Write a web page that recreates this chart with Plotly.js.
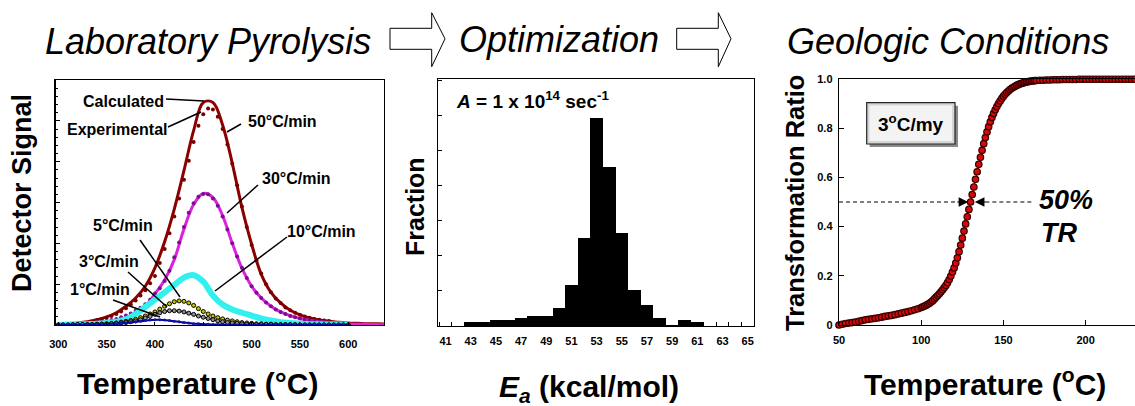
<!DOCTYPE html>
<html><head><meta charset="utf-8">
<script src="https://cdn.plot.ly/plotly-3.0.1.min.js"></script>
<style>html,body{margin:0;padding:0;background:#fff}#chart{width:1135px;height:406px}</style>
</head><body><div id="chart"></div>
<script>
// ---------- Panel 1: laboratory pyrolysis (detector signal, arbitrary units) ----------
const tempCalc = [300,310,320,330,340,350,360,370,380,390,400,410,420,430,440,450,460,470,480,490,500,510,520,530,540,550,560,570,580,590,600,610,620,630,640];
const calc50 = [0.02,0.03,0.05,0.08,0.13,0.20,0.30,0.46,0.66,0.95,1.40,2.04,2.84,3.78,4.76,5.45,5.45,4.90,3.96,2.88,1.98,1.24,0.80,0.54,0.36,0.25,0.17,0.12,0.09,0.07,0.05,0.04,0.03,0.03,0.02];
const calc30 = [0.01,0.01,0.02,0.03,0.05,0.08,0.12,0.18,0.30,0.46,0.76,1.10,1.60,2.35,2.95,3.22,3.12,2.68,2.00,1.39,0.95,0.66,0.46,0.32,0.23,0.16,0.11,0.08,0.06,0.04,0.03,0.02,0.02,0.01,0.01];
const tempExp = [340,345,350,355,360,365,370,375,380,385,390,395,400,405,410,415,420,425,430,435,440,445,450,455,460,465,470,475,480,485,490,495,500,505,510,515,520,525,530,535,540,545,550,555,560,565,570,575,580];
const exp50 = [0.12,0.15,0.18,0.22,0.27,0.33,0.41,0.50,0.60,0.72,0.85,1.02,1.20,1.52,1.86,2.25,2.66,3.10,3.56,4.02,4.48,4.88,5.16,5.30,5.28,5.10,4.80,4.42,3.95,3.42,2.90,2.40,1.96,1.58,1.26,1.00,0.80,0.65,0.54,0.43,0.36,0.30,0.25,0.21,0.18,0.15,0.13,0.11,0.10];
const exp30 = [0.06,0.08,0.10,0.12,0.15,0.19,0.23,0.28,0.35,0.42,0.51,0.62,0.77,0.90,1.08,1.33,1.66,2.02,2.40,2.75,2.98,3.14,3.21,3.20,3.10,2.92,2.66,2.34,2.00,1.68,1.40,1.15,0.95,0.79,0.66,0.55,0.46,0.38,0.32,0.27,0.22,0.19,0.16,0.13,0.11,0.10,0.08,0.07,0.06];
const temp10 = [300,310,320,330,340,350,360,370,380,390,400,410,420,430,440,450,460,470,480,490,500,510,520,530,540,550,560,570,580,590,600];
const rate10 = [0,0.01,0.01,0.02,0.03,0.05,0.08,0.14,0.27,0.44,0.62,0.80,0.98,1.16,1.22,1.06,0.72,0.50,0.38,0.30,0.23,0.16,0.11,0.07,0.05,0.03,0.02,0.02,0.01,0.01,0.01];
const tempLow = [300,305,310,315,320,325,330,335,340,345,350,355,360,365,370,375,380,385,390,395,400,405,410,415,420,425,430,435,440,445,450,455,460,465,470,475,480,485,490,495,500,505,510,515,520,525,530,535,540,545,550,555,560,565,570,575,580,585,590,595,600];
const rate5 = [0,0,0,0.01,0.01,0.01,0.01,0.01,0.02,0.02,0.03,0.04,0.05,0.07,0.09,0.11,0.14,0.18,0.22,0.27,0.32,0.39,0.46,0.52,0.57,0.59,0.58,0.54,0.48,0.40,0.33,0.27,0.22,0.18,0.15,0.12,0.10,0.08,0.06,0.05,0.04,0.03,0.03,0.02,0.02,0.01,0.01,0.01,0.01,0.01,0,0,0,0,0,0,0,0,0,0,0];
const rate3 = [0,0,0,0,0.01,0.01,0.01,0.01,0.01,0.02,0.02,0.03,0.04,0.05,0.06,0.08,0.10,0.13,0.17,0.21,0.26,0.30,0.33,0.35,0.35,0.34,0.32,0.29,0.26,0.22,0.19,0.16,0.13,0.10,0.08,0.06,0.05,0.04,0.03,0.02,0.02,0.01,0.01,0.01,0.01,0,0,0,0,0,0,0,0,0,0,0,0,0,0,0,0];
const rate1 = [0,0,0,0,0,0,0.01,0.01,0.01,0.01,0.02,0.02,0.03,0.04,0.05,0.06,0.08,0.09,0.11,0.12,0.13,0.13,0.12,0.11,0.09,0.08,0.06,0.05,0.03,0.03,0.02,0.02,0.01,0.01,0.01,0,0,0,0,0,0,0,0,0,0,0,0,0,0,0,0,0,0,0,0,0,0,0,0,0,0];
const tempTicks = [300,350,400,450,500,550,600];

// ---------- Panel 2: activation energy distribution ----------
const eaBins = [43,44,45,46,47,48,49,50,51,52,53,54,55,56,57,58,59,60,61];
const eaFraction = [0.006,0.005,0.009,0.009,0.011,0.014,0.014,0.025,0.058,0.126,0.296,0.226,0.133,0.051,0.030,0.012,0.002,0.008,0.005];
const eaTicks = [41,43,45,47,49,51,53,55,57,59,61,63,65];

// ---------- Panel 3: geologic transformation ratio ----------
const geoTemp = [50,52,54,56,58,60,62,64,66,68,70,72,74,76,78,80,82,84,86,88,90,92,94,96,98,100,
101,102,103,104,105,106,107,108,109,110,111,112,113,114,115,116,117,118,119,120,
121,122,123,124,125,126,127,128,129,130,131,132,133,134,135,136,137,138,139,140,
141,142,143,144,145,146,147,148,149,150,151,152,153,154,155,156,157,158,159,160,
161,162,163,164,165,166,167,168,169,170,
172,174,176,178,180,182,184,186,188,190,192,194,196,198,200,202,204,206,208,210,212,214,216,218,220,222,224,226,228,230];
const geoTR = [0.000,0.003,0.006,0.008,0.010,0.012,0.015,0.018,0.021,0.023,0.025,0.027,0.029,0.032,0.035,0.037,0.039,0.042,0.045,0.048,0.051,0.054,0.058,0.062,0.066,0.071,
0.074,0.077,0.080,0.084,0.088,0.093,0.099,0.106,0.113,0.120,
0.127,0.135,0.143,0.152,0.161,0.172,0.185,0.199,0.215,0.232,
0.252,0.273,0.298,0.325,0.353,0.382,0.411,0.440,0.470,0.500,
0.530,0.561,0.592,0.623,0.653,0.682,0.710,0.737,0.762,0.785,
0.806,0.826,0.844,0.860,0.875,0.888,0.900,0.911,0.921,0.930,
0.938,0.945,0.951,0.957,0.962,0.966,0.970,0.974,0.977,0.980,
0.982,0.984,0.986,0.988,0.989,0.990,0.991,0.992,0.993,0.994,
0.995,0.995,0.996,0.996,0.997,0.997,0.997,0.998,0.998,0.998,
0.998,0.998,0.999,0.999,0.999,0.999,0.999,0.999,0.999,0.999,
0.999,0.999,0.999,0.999,0.999,0.999,0.999,0.999,0.999,0.999];
const trTickVals = [0,0.2,0.4,0.6,0.8,1.0];
const trTickText = ['0','0.2','0.4','0.6','0.8','1.0'];
const geoTicks = [50,100,150,200];

// ---------- layout helpers (pixel -> paper) ----------
const W = 1135, H = 406;
const X = p => p / W, Y = p => 1 - p / H;
const FONT = 'Liberation Sans, Arial, Helvetica, sans-serif';
const tickFont = {family: FONT, size: 11, color: '#000', weight: 'bold'};

const traces = [
  {x: tempCalc, y: calc50, mode: 'lines', line: {color: '#8b0000', width: 3, shape: 'spline'}, xaxis: 'x', yaxis: 'y'},
  {x: tempExp, y: exp50, mode: 'markers', marker: {color: '#7a0000', size: 4}, xaxis: 'x', yaxis: 'y'},
  {x: tempCalc, y: calc30, mode: 'lines', line: {color: '#e020e0', width: 3, shape: 'spline'}, xaxis: 'x', yaxis: 'y'},
  {x: tempExp, y: exp30, mode: 'markers', marker: {color: '#7a1090', size: 4}, xaxis: 'x', yaxis: 'y'},
  {x: temp10, y: rate10, mode: 'lines', line: {color: '#33f0f0', width: 6, shape: 'spline'}, xaxis: 'x', yaxis: 'y'},
  {x: tempLow, y: rate5, mode: 'lines+markers', line: {color: '#d8d800', width: 1.5, shape: 'spline'}, marker: {color: '#c8c800', size: 4, line: {color: '#000', width: 1}}, xaxis: 'x', yaxis: 'y'},
  {x: tempLow, y: rate3, mode: 'lines+markers', line: {color: '#202020', width: 1.5, shape: 'spline'}, marker: {color: '#909090', size: 4, line: {color: '#000', width: 1}}, xaxis: 'x', yaxis: 'y'},
  {x: tempLow, y: rate1, mode: 'lines+markers', line: {color: '#000080', width: 2, shape: 'spline'}, marker: {color: '#1010c0', size: 3}, xaxis: 'x', yaxis: 'y'},
  {x: eaBins, y: eaFraction, type: 'bar', width: 1, marker: {color: '#000', line: {width: 0}}, xaxis: 'x2', yaxis: 'y2'},
  {x: geoTemp, y: geoTR, mode: 'lines+markers', line: {color: '#3a0000', width: 1}, marker: {color: '#d80808', size: 6.5, line: {color: '#3a0000', width: 1.2}}, cliponaxis: false, xaxis: 'x3', yaxis: 'y3'}
];

const axBase = {showline: true, linecolor: '#000', linewidth: 1.3, showgrid: false, zeroline: false, tickfont: tickFont, tickcolor: '#000'};

function blockArrow(x0, x1, tip, sy0, sy1, hy0, hy1) {
  const my = (sy0 + sy1) / 2;
  const pts = [[x0,sy0],[x1,sy0],[x1,hy0],[tip,my],[x1,hy1],[x1,sy1],[x0,sy1]];
  return {type: 'path', xref: 'paper', yref: 'paper', path: 'M ' + pts.map(p => X(p[0]) + ',' + Y(p[1])).join(' L ') + ' Z', line: {color: '#000', width: 1}, fillcolor: '#fff'};
}
function seg(x0, y0, x1, y1) {
  return {type: 'line', xref: 'paper', yref: 'paper', x0: X(x0), y0: Y(y0), x1: X(x1), y1: Y(y1), line: {color: '#000', width: 1.5}};
}
function txt(text, x, y, size, opts) {
  return Object.assign({text: text, xref: 'paper', yref: 'paper', x: X(x), y: Y(y), showarrow: false, xanchor: 'center', yanchor: 'middle', font: {family: FONT, size: size, color: '#000', weight: 'bold'}}, opts || {});
}
const titleFont = {family: FONT, size: 36, color: '#000', style: 'italic'};

const shapes = [
  blockArrow(390, 431.7, 445, 28.3, 49.3, 12.7, 66.7),
  blockArrow(676.7, 718.3, 731, 28.3, 49.3, 12.7, 66.7),
  // leader lines, panel 1
  seg(166, 99, 204, 101), seg(168, 127, 201, 112), seg(241, 124, 227, 132),
  seg(258, 185, 227, 213), seg(287, 237, 215, 291), seg(140, 240, 180, 297),
  seg(128, 272, 167, 307), seg(113, 300, 160, 317),
  // 3oC/my box
  {type: 'rect', xref: 'paper', yref: 'paper', x0: X(869.7), x1: X(958), y0: Y(147), y1: Y(105.7), line: {width: 0}, fillcolor: '#8a8a8a'},
  {type: 'rect', xref: 'paper', yref: 'paper', x0: X(866.7), x1: X(955), y0: Y(144), y1: Y(102.7), line: {color: '#222', width: 1.2}, fillcolor: '#d6d6d6'},
  {type: 'rect', xref: 'paper', yref: 'paper', x0: X(869.5), x1: X(952), y0: Y(141), y1: Y(105.5), line: {width: 0}, fillcolor: '#f3f3f3'},
  // dashed 50% lines
  {type: 'line', xref: 'x3', yref: 'y3', x0: 50, x1: 122, y0: 0.5, y1: 0.5, line: {color: '#000', width: 1, dash: '4px,3px'}},
  {type: 'line', xref: 'x3', yref: 'y3', x0: 139, x1: 167, y0: 0.5, y1: 0.5, line: {color: '#000', width: 1, dash: '4px,3px'}}
];

const annotations = [
  txt('Laboratory Pyrolysis', 207.5, 41, 36, {font: titleFont}),
  txt('Optimization', 559, 39, 36, {font: titleFont}),
  txt('Geologic Conditions', 947.5, 41, 36, {font: titleFont}),
  txt('Detector Signal', 22, 193, 27, {textangle: -90}),
  txt('Fraction', 415, 207, 25, {textangle: -90}),
  txt('Transformation Ratio', 795, 203, 25.5, {textangle: -90}),
  txt('Temperature (°C)', 197, 383, 30),
  txt('<i>E</i><sub><i>a</i></sub> (kcal/mol)', 589, 388, 30),
  txt('Temperature (<sup>o</sup>C)', 985, 382, 30),
  txt('Calculated', 123, 101.7, 16),
  txt('Experimental', 117, 130, 16),
  txt('50°C/min', 282, 121.7, 16),
  txt('30°C/min', 296, 178, 16),
  txt('10°C/min', 321, 231.7, 16),
  txt('5°C/min', 123, 225, 16),
  txt('3°C/min', 109, 261.7, 16),
  txt('1°C/min', 100, 289, 16),
  txt('<i>A</i> = 1 x 10<sup>14</sup> sec<sup>-1</sup>', 454, 100, 19, {xanchor: 'left'}),
  txt('3<sup>o</sup>C/my', 910.7, 123.3, 19),
  txt('<i>50%</i>', 1037, 200, 27, {xanchor: 'left'}),
  txt('<i>TR</i>', 1039, 233, 27, {xanchor: 'left'}),
  {xref: 'x3', yref: 'y3', axref: 'x3', ayref: 'y3', x: 128.6, y: 0.5, ax: 121, ay: 0.5, text: '', showarrow: true, arrowhead: 2, arrowsize: 1.6, arrowwidth: 1.2, arrowcolor: '#000', standoff: 0},
  {xref: 'x3', yref: 'y3', axref: 'x3', ayref: 'y3', x: 132.6, y: 0.5, ax: 140, ay: 0.5, text: '', showarrow: true, arrowhead: 2, arrowsize: 1.6, arrowwidth: 1.2, arrowcolor: '#000', standoff: 0}
];

const layout = {
  width: W, height: H, margin: {l: 0, r: 0, t: 0, b: 0}, showlegend: false,
  paper_bgcolor: '#fff', plot_bgcolor: '#fff', bargap: 0,
  font: {family: FONT, color: '#000'},
  xaxis: Object.assign({}, axBase, {domain: [X(55.7), X(384)], anchor: 'y', range: [297.3, 637], mirror: true, ticks: 'inside', ticklen: 3, tickvals: tempTicks, ticklabelstandoff: 8}),
  yaxis: Object.assign({}, axBase, {domain: [Y(325), Y(80)], anchor: 'x', range: [0, 6], mirror: true, ticks: 'inside', ticklen: 4, dtick: 1, showticklabels: false, minor: {ticks: 'inside', ticklen: 2, dtick: 0.2, tickcolor: '#000'}}),
  xaxis2: Object.assign({}, axBase, {domain: [X(438), X(754)], anchor: 'y2', range: [40.4, 65.5], mirror: true, ticks: '', tickvals: eaTicks, ticklabelstandoff: 4, minor: {ticks: 'inside', ticklen: 4, tick0: 40.5, dtick: 1, tickcolor: '#000'}}),
  yaxis2: Object.assign({}, axBase, {domain: [Y(326), Y(79)], anchor: 'x2', range: [0, 0.352], mirror: true, ticks: 'inside', ticklen: 4, dtick: 0.05, showticklabels: false}),
  xaxis3: Object.assign({}, axBase, {domain: [X(839), 1], anchor: 'y3', range: [50, 230], mirror: true, ticks: 'inside', ticklen: 5, tickvals: geoTicks, ticklabelstandoff: 4}),
  yaxis3: Object.assign({}, axBase, {domain: [Y(325), Y(79)], anchor: 'x3', range: [0, 1], ticks: 'inside', ticklen: 5, tickvals: trTickVals, ticktext: trTickText, ticklabelstandoff: 3}),
  shapes: shapes,
  annotations: annotations
};

Plotly.newPlot('chart', traces, layout, {staticPlot: true, displayModeBar: false});
</script></body></html>
